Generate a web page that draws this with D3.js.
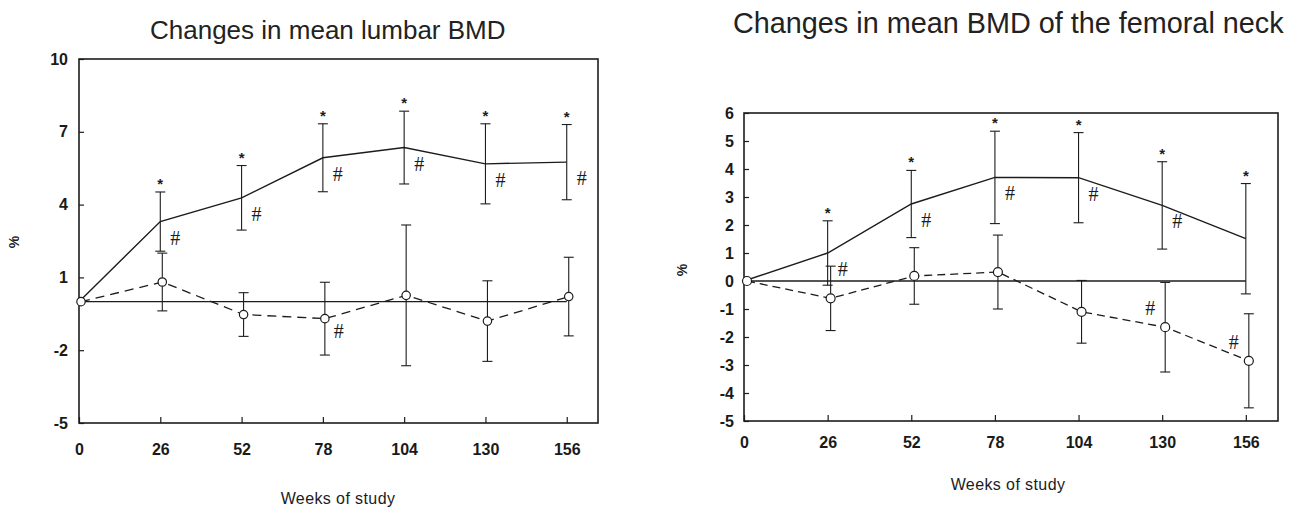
<!DOCTYPE html>
<html>
<head>
<meta charset="utf-8">
<script src="https://cdn.jsdelivr.net/npm/d3@7"></script>
<style>
    body { margin: 0; background: #fff; }
    svg { display: block; font-family: "Liberation Sans", Arial, sans-serif; }
    .tick text { font-weight: bold; font-size: 16px; fill: #1a1a1a; }
</style>
</head>
<body>
<svg id="chart" width="1290" height="508"></svg>
<script>
var weeks = [0, 26, 52, 78, 104, 130, 156];

// lumbar spine, % change from baseline
var lumbarTreat = [0, 3.3, 4.28, 5.93, 6.35, 5.68, 5.75];
var lumbarTreatSD = [0, 1.22, 1.33, 1.4, 1.5, 1.65, 1.55];
var lumbarPlacebo = [0, 0.81, -0.53, -0.7, 0.26, -0.8, 0.21];
var lumbarPlaceboSD = [0, 1.19, 0.9, 1.5, 2.9, 1.66, 1.62];
var lumbarTreatStar = [0, 1, 1, 1, 1, 1, 1];
var lumbarTreatHash = [0, 1, 1, 1, 1, 1, 1];
var lumbarPlaceboHash = [0, 0, 0, 1, 0, 0, 0];
var lumbarYTicks = [-5, -2, 1, 4, 7, 10];

// femoral neck, % change from baseline
var femurTreat = [0, 1.0, 2.75, 3.7, 3.69, 2.7, 1.51];
var femurTreatSD = [0, 1.15, 1.2, 1.65, 1.61, 1.56, 1.97];
var femurPlacebo = [0, -0.62, 0.18, 0.32, -1.1, -1.65, -2.85];
var femurPlaceboSD = [0, 1.15, 1.01, 1.32, 1.12, 1.6, 1.68];
var femurTreatStar = [0, 1, 1, 1, 1, 1, 1];
var femurTreatHash = [0, 1, 1, 1, 1, 1, 0];
var femurPlaceboHash = [0, 0, 0, 0, 0, 1, 1];
var femurYTicks = [-5, -4, -3, -2, -1, 0, 1, 2, 3, 4, 5, 6];

var svg = d3.select("#chart");
var ink = "#1c1c1c";

var drawPanel = function (p) {
    "use strict";
    var g, x, y, treat, placebo, line, plain;

    g = svg.append("g");
    x = d3.scaleLinear().domain([0, 166]).range([p.left, p.right]);
    y = d3.scaleLinear().domain(p.yDomain).range([p.bottom, p.top]);
    plain = function (d) { return String(d); }; // hyphen minus like the scan

    // title
    g.append("text")
        .attr("x", p.titleX)
        .attr("y", p.titleY)
        .attr("font-size", p.titleSize)
        .attr("fill", "#222")
        .text(p.title);

    g.append("g")
        .attr("transform", "translate(" + p.left + ",0)")
        .call(d3.axisLeft(y).tickValues(p.yTicks).tickFormat(plain)
            .tickSizeInner(-5).tickSizeOuter(0).tickPadding(p.yPad));
    g.append("g")
        .attr("transform", "translate(0," + p.bottom + ")")
        .call(d3.axisBottom(x).tickValues(weeks).tickFormat(plain)
            .tickSizeInner(-6).tickSizeOuter(0).tickPadding(p.xPad));
    g.selectAll(".domain").remove();
    g.selectAll(".tick line").attr("stroke", ink).attr("stroke-width", 1.2);

    // frame
    g.append("rect")
        .attr("x", p.left)
        .attr("y", p.top)
        .attr("width", p.right - p.left)
        .attr("height", p.bottom - p.top)
        .attr("fill", "none")
        .attr("stroke", ink)
        .attr("stroke-width", 1.6);

    // zero reference
    g.append("line")
        .attr("x1", x(0)).attr("x2", x(156))
        .attr("y1", y(0)).attr("y2", y(0))
        .attr("stroke", ink)
        .attr("stroke-width", 1.4);

    g.append("text")
        .attr("transform", "translate(" + p.pctX + "," + p.pctY + ") rotate(-90)")
        .attr("text-anchor", "middle")
        .attr("font-size", 14)
        .attr("font-weight", "bold")
        .attr("fill", ink)
        .text("%");

    g.append("text")
        .attr("x", p.weeksX)
        .attr("y", p.weeksY)
        .attr("text-anchor", "middle")
        .attr("font-size", 16)
        .attr("letter-spacing", 0.4)
        .attr("fill", ink)
        .text("Weeks of study");

    treat = weeks.map(function (w, i) {
        return {w: w, v: p.treat[i], sd: p.treatSD[i], star: p.star[i], hash: p.treatHash[i], dx: 0};
    });
    placebo = weeks.map(function (w, i) {
        return {w: w, v: p.placebo[i], sd: p.placeboSD[i], hash: p.placeboHash[i], dx: p.offset};
    });

    var errorBars = function (data) {
        var eb = g.append("g").selectAll("g")
            .data(data.filter(function (d) { return d.sd > 0; }))
            .enter().append("g")
            .attr("stroke", ink)
            .attr("stroke-width", 1.1);
        eb.append("line")
            .attr("x1", function (d) { return x(d.w) + d.dx; })
            .attr("x2", function (d) { return x(d.w) + d.dx; })
            .attr("y1", function (d) { return y(d.v + d.sd); })
            .attr("y2", function (d) { return y(d.v - d.sd); });
        [1, -1].forEach(function (s) {
            eb.append("line")
                .attr("x1", function (d) { return x(d.w) + d.dx - 5; })
                .attr("x2", function (d) { return x(d.w) + d.dx + 5; })
                .attr("y1", function (d) { return y(d.v + s * d.sd); })
                .attr("y2", function (d) { return y(d.v + s * d.sd); });
        });
    };
    errorBars(treat);
    errorBars(placebo);

    line = d3.line()
        .x(function (d) { return x(d.w) + d.dx; })
        .y(function (d) { return y(d.v); });

    g.append("path")
        .datum(treat)
        .attr("d", line)
        .attr("fill", "none")
        .attr("stroke", ink)
        .attr("stroke-width", 1.4);

    g.append("path")
        .datum(placebo)
        .attr("d", line)
        .attr("fill", "none")
        .attr("stroke", ink)
        .attr("stroke-width", 1.3)
        .attr("stroke-dasharray", p.dash);

    g.selectAll("circle.pl")
        .data(placebo)
        .enter().append("circle")
        .attr("class", "pl")
        .attr("cx", function (d) { return x(d.w) + d.dx; })
        .attr("cy", function (d) { return y(d.v); })
        .attr("r", p.r)
        .attr("fill", "#fff")
        .attr("stroke", ink)
        .attr("stroke-width", 1.2);

    // significance marks
    g.selectAll("text.star")
        .data(treat.filter(function (d) { return d.star; }))
        .enter().append("text")
        .attr("class", "star")
        .attr("x", function (d) { return x(d.w); })
        .attr("y", function (d) { return y(d.v + d.sd) - 3; })
        .attr("text-anchor", "middle")
        .attr("font-size", 15)
        .attr("font-weight", "bold")
        .attr("fill", ink)
        .text("*");

    g.selectAll("text.th")
        .data(treat.filter(function (d) { return d.hash; }))
        .enter().append("text")
        .attr("class", "th")
        .attr("x", function (d) { return x(d.w) + 15; })
        .attr("y", function (d) { return y(d.v) + 23; })
        .attr("text-anchor", "middle")
        .attr("font-family", "Liberation Serif, serif")
        .attr("font-size", 20)
        .attr("fill", ink)
        .text("#");

    g.selectAll("text.ph")
        .data(placebo.filter(function (d) { return d.hash; }))
        .enter().append("text")
        .attr("class", "ph")
        .attr("x", function (d) { return x(d.w) + p.phDx; })
        .attr("y", function (d) { return y(d.v) + p.phDy; })
        .attr("text-anchor", "middle")
        .attr("font-family", "Liberation Serif, serif")
        .attr("font-size", 20)
        .attr("fill", ink)
        .text("#");
};

drawPanel({
    title: "Changes in mean lumbar BMD",
    titleX: 150, titleY: 39, titleSize: 26,
    left: 79, right: 598, top: 59, bottom: 423,
    yDomain: [-5, 10], yTicks: lumbarYTicks,
    yPad: 11, xPad: 21,
    pctX: 19, pctY: 242,
    weeksX: 338, weeksY: 504,
    treat: lumbarTreat, treatSD: lumbarTreatSD,
    placebo: lumbarPlacebo, placeboSD: lumbarPlaceboSD,
    star: lumbarTreatStar, treatHash: lumbarTreatHash, placeboHash: lumbarPlaceboHash,
    offset: 2, r: 4.2, dash: "9,6",
    phDx: 16, phDy: 19
});

drawPanel({
    title: "Changes in mean BMD of the femoral neck",
    titleX: 733, titleY: 33, titleSize: 28.8,
    left: 744, right: 1278, top: 113, bottom: 421,
    yDomain: [-5, 6], yTicks: femurYTicks,
    yPad: 10, xPad: 16,
    pctX: 687, pctY: 270,
    weeksX: 1008, weeksY: 490,
    treat: femurTreat, treatSD: femurTreatSD,
    placebo: femurPlacebo, placeboSD: femurPlaceboSD,
    star: femurTreatStar, treatHash: femurTreatHash, placeboHash: femurPlaceboHash,
    offset: 3, r: 4.5, dash: "8,5",
    phDx: -12, phDy: -12
});
</script>
</body>
</html>
